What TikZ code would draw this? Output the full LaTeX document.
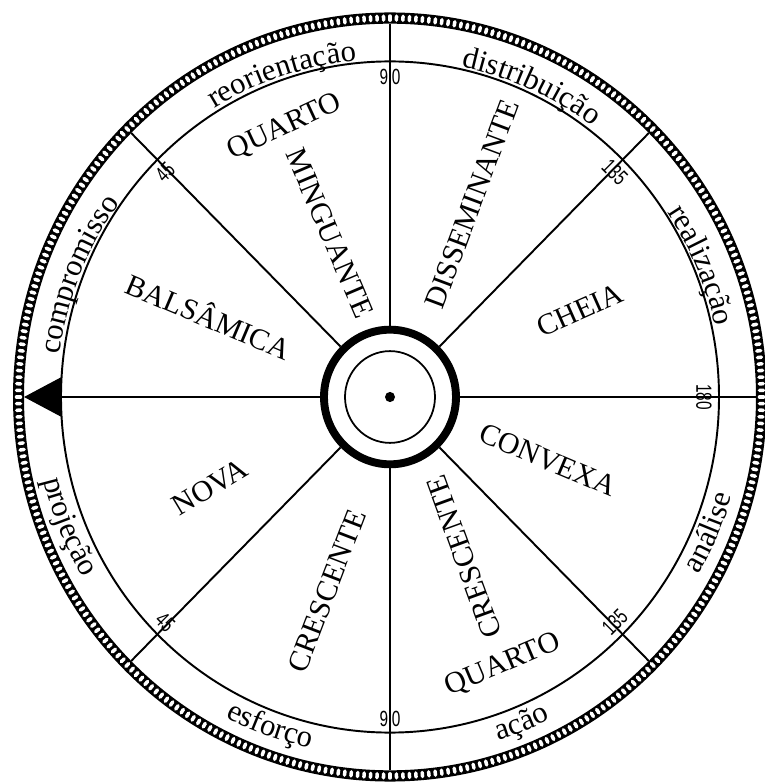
\documentclass[tikz,border=0pt]{standalone}
\usepackage{fontspec}
\setmainfont{Liberation Serif}
\newfontfamily\digitfont{Liberation Sans}
\usetikzlibrary{arrows.meta,decorations.text}

\newcommand{\phasefont}{\fontsize{17}{20}\selectfont}
\newcommand{\ringfont}{\fontsize{17.5}{21}\selectfont}
\newcommand{\degfont}{\digitfont\fontsize{12.5}{14}\selectfont}
\newcommand{\degnum}[1]{\scalebox{0.7}[1]{#1}}

\begin{document}
\begin{tikzpicture}[
    x=0.02cm, y=0.02cm,
    phase/.style={font=\phasefont, inner sep=0pt},
    degree/.style={font=\degfont, inner sep=0pt},
    spoke/.style={line width=1.1pt},
    ringtext/.style={decorate, decoration={text along path, text align=center, text={|\ringfont|#1}}}
]
    \useasboundingbox (0,0) rectangle (765,782);

    % Rad: Perlenband, Kreise, Speichen
    \begin{scope}[shift={(390,385)}, yscale=1.02]
        \fill[even odd rule] (0,0) circle[radius=377] (0,0) circle[radius=366];
        \foreach \a in {0,...,359}
            \draw[white, line width=2pt, line cap=round] (\a:369.5) -- (\a:373.5);
        \draw[line width=1.1pt] (0,0) circle[radius=329];
        \foreach \a in {0,45,90,135,225,270,315}
            \draw[spoke] (\a:70) -- (\a:366);
        \draw[line width=1.4pt, -{Triangle[length=21pt,width=22pt]}] (180:70) -- (180:366);
        % Mitte
        \draw[line width=4.5pt] (0,0) circle[radius=66];
        \draw[line width=1pt] (0,0) circle[radius=45];
        \fill (0,0) circle[radius=5];
    \end{scope}

    % Ringtexte und Gradzahlen
    \begin{scope}[shift={(390,385)}]
        \path[ringtext=reorientação] (132.5:338) arc[start angle=132.5, end angle=84.5, radius=338];
        \path[ringtext=distribuição] (89.5:338) arc[start angle=89.5, end angle=41.5, radius=338];
        \path[ringtext=realização] (46.5:333) arc[start angle=46.5, end angle=-0.5, radius=333];
        \path[ringtext=compromisso] (182.5:333) arc[start angle=182.5, end angle=134.5, radius=333];
        \path[ringtext=análise] (-46.5:356) arc[start angle=-46.5, end angle=0.5, radius=356];
        \path[ringtext=ação] (-91:360) arc[start angle=-91, end angle=-45, radius=360];
        \path[ringtext=esforço] (-133:360) arc[start angle=-133, end angle=-87, radius=360];
        \path[ringtext=projeção] (178.5:356) arc[start angle=178.5, end angle=225.5, radius=356];

        \node[degree, rotate=45] (d45a) at (135:318) {\degnum{45}};
        \node[degree] (d90a) at (90:320) {\degnum{9\hspace{3pt}0}};
        \node[degree, rotate=-45] (d135a) at (45:318) {\degnum{135}};
        \node[degree, rotate=-90] (d180) at (0:314) {\degnum{180}};
        \node[degree, rotate=45] (d135b) at (-45:318) {\degnum{135}};
        \node[degree] (d90b) at (-90:322) {\degnum{9\hspace{3pt}0}};
        \node[degree, rotate=-45] (d45b) at (-135:318) {\degnum{45}};
    \end{scope}

    % Phasen
    \node[phase, rotate=25] (quartoM) at (285,655) {QUARTO};
    \node[phase, rotate=-67] (minguante) at (330,549) {MINGUANTE};
    \node[phase, rotate=69.5] (disseminante) at (472,578) {DISSEMINANTE};
    \node[phase, rotate=24] (cheia) at (580,472) {CHEIA};
    \node[phase, rotate=-23] (convexa) at (548,322) {CONVEXA};
    \node[phase, rotate=110] (crescenteR) at (464,225) {CRESCENTE};
    \node[phase, rotate=23] (quartoC) at (503,117) {QUARTO};
    \node[phase, rotate=69] (crescenteL) at (327,191) {CRESCENTE};
    \node[phase, rotate=31] (nova) at (210,295) {NOVA};
    \node[phase, rotate=-23] (balsamica) at (209,467) {BALSÂMICA};

\end{tikzpicture}
\end{document}
